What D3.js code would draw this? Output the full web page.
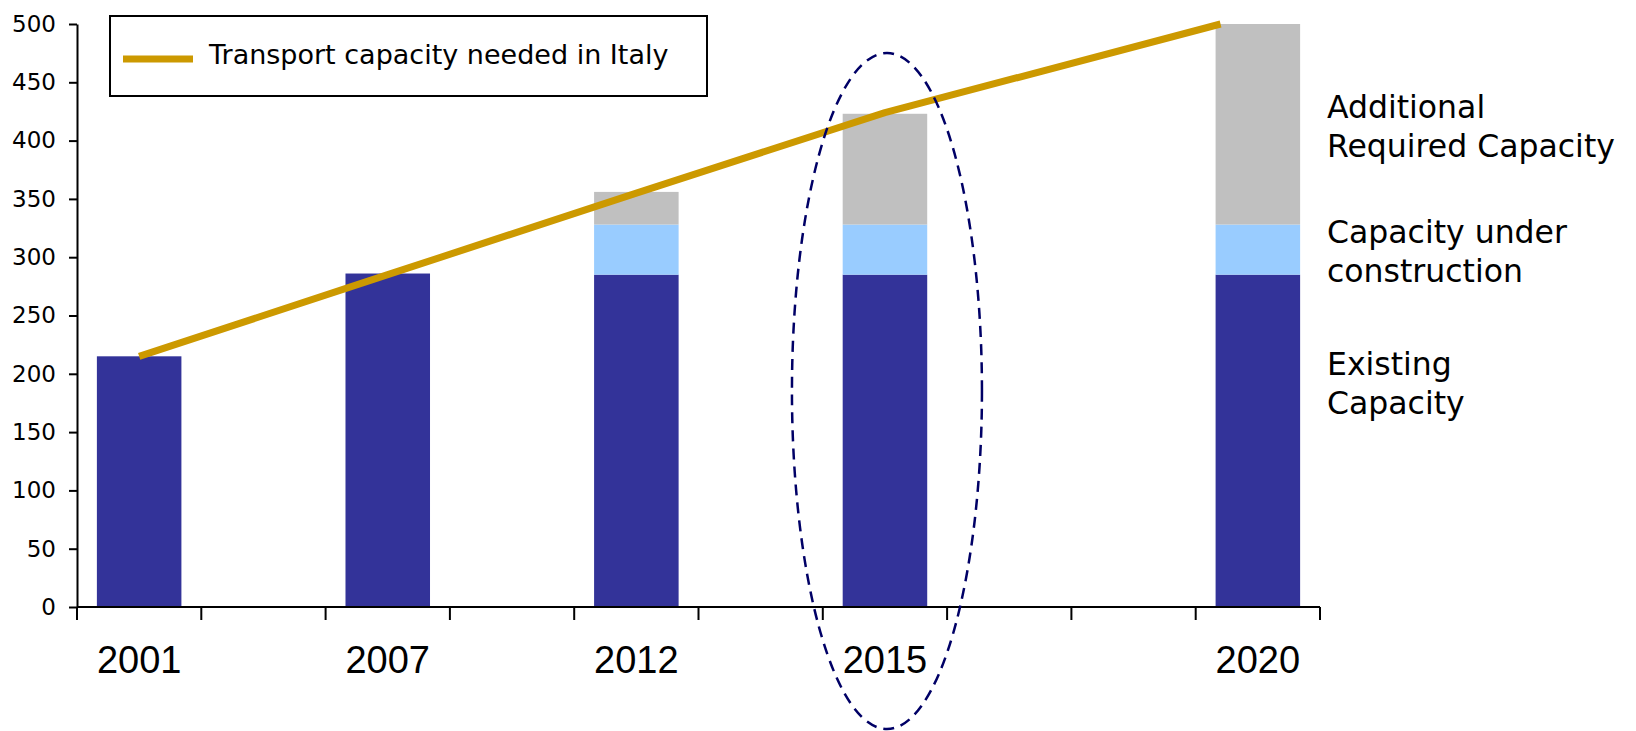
<!DOCTYPE html>
<html>
<head>
<meta charset="utf-8">
<script src="https://cdn.jsdelivr.net/npm/d3@7"></script>
<style>
  body { margin: 0; background: #fff; }
  svg { display: block; }
</style>
</head>
<body>
<svg id="chart"></svg>
<script>

// category slots on the x axis (blank slots have no bar)
const categories = ["2001", "", "2007", "", "2012", "", "2015", "", "", "2020"];
const barYears = ["2001", "2007", "2012", "2015", "2020"];
const existing = [215, 286, 285, 285, 285];
const underConstruction = [0, 0, 43, 43, 43];
const additional = [0, 0, 28, 95, 172];

// needed transport capacity, one point per bar year
const lineYears = ["2001", "2007", "2012", "2015", "2020"];
const lineValues = [215, 285, 355, 424, 500];

const yTicks = [0, 50, 100, 150, 200, 250, 300, 350, 400, 450, 500];

const sideLabels = [
    {lines: ["Additional", "Required Capacity"], value: 419},
    {lines: ["Capacity under", "construction"], value: 312},
    {lines: ["Existing", "Capacity"], value: 199}
];

function drawChart(){

    const width = 1636, height = 731;
    const margin = {top: 24, left: 77, right: 316, bottom: 124};

    const svg = d3.select("#chart")
                  .attr("width", width)
                  .attr("height", height);

    svg.selectAll("*").remove();

    const x = d3.scaleBand()
                .domain(d3.range(categories.length))
                .range([margin.left, width - margin.right])
                .padding(0);

    const y = d3.scaleLinear()
                .domain([0, 500])
                .range([height - margin.bottom, margin.top]);

    const slotCenter = s => x(s) + x.bandwidth() / 2;

    // line points sit on the bar centres, except the last which stops at the bar's left side
    const lineX = lineYears.map((yr, i) => {
        const s = categories.indexOf(yr);
        return i === lineYears.length - 1 ? x(s) + x.bandwidth() * 0.2 : slotCenter(s);
    });

    const colors = {existing: "#333399", construction: "#99ccff", additional: "#c0c0c0"};

    const rows = barYears.map((yr, i) => ({
        slot: categories.indexOf(yr),
        existing: existing[i],
        construction: underConstruction[i],
        additional: additional[i]
    }));

    const stack = d3.stack().keys(["existing", "construction", "additional"]);
    const series = stack(rows);

    const barW = x.bandwidth() * 0.68;

    svg.append("g")
       .selectAll("g")
       .data(series)
       .join("g")
       .attr("fill", d => colors[d.key])
       .selectAll("rect")
       .data(d => d)
       .join("rect")
       .attr("x", d => x(d.data.slot) + (x.bandwidth() - barW) / 2)
       .attr("width", barW)
       .attr("y", d => y(d[1]))
       .attr("height", d => y(d[0]) - y(d[1]));

    // y axis
    const yAxis = svg.append("g")
       .attr("transform", `translate(${margin.left},0)`)
       .call(d3.axisLeft(y).tickValues(yTicks).tickSize(8).tickPadding(13).tickSizeOuter(0));
    yAxis.select(".domain").attr("stroke", "#000").attr("stroke-width", 2);
    yAxis.selectAll(".tick line").attr("stroke", "#000").attr("stroke-width", 2);
    yAxis.selectAll("text")
         .style("font-family", "'DejaVu Sans', Verdana, sans-serif")
         .style("font-size", "23px")
         .attr("fill", "#000");

    // x axis: line plus ticks at slot boundaries
    const gx = svg.append("g");
    gx.append("line")
      .attr("x1", x.range()[0]).attr("x2", x.range()[1])
      .attr("y1", y(0)).attr("y2", y(0))
      .attr("stroke", "#000").attr("stroke-width", 2);
    gx.selectAll(".xt")
      .data(d3.range(categories.length + 1))
      .join("line")
      .attr("x1", d => margin.left + d * x.bandwidth())
      .attr("x2", d => margin.left + d * x.bandwidth())
      .attr("y1", y(0)).attr("y2", y(0) + 13)
      .attr("stroke", "#000").attr("stroke-width", 2);
    gx.selectAll(".xl")
      .data(categories.map((c, i) => ({c, i})).filter(d => d.c !== ""))
      .join("text")
      .attr("x", d => slotCenter(d.i))
      .attr("y", y(0) + 66)
      .attr("text-anchor", "middle")
      .style("font-family", "'Liberation Sans', Arial, sans-serif")
      .style("font-size", "38px")
      .text(d => d.c);

    // demand line
    const line = d3.line()
                   .x((d, i) => lineX[i])
                   .y(d => y(d));
    svg.append("path")
       .datum(lineValues)
       .attr("d", line)
       .attr("fill", "none")
       .attr("stroke", "#cc9900")
       .attr("stroke-width", 7)
       .attr("stroke-linejoin", "round");

    // dashed ellipse around 2015
    svg.append("ellipse")
       .attr("cx", slotCenter(6) + 2)
       .attr("cy", 391)
       .attr("rx", 95)
       .attr("ry", 338)
       .attr("fill", "none")
       .attr("stroke", "#000066")
       .attr("stroke-width", 2.5)
       .attr("stroke-dasharray", "11,7");

    // legend
    const lg = svg.append("g");
    lg.append("rect")
      .attr("x", 110).attr("y", 16)
      .attr("width", 597).attr("height", 80)
      .attr("fill", "#fff").attr("stroke", "#000").attr("stroke-width", 2);
    lg.append("line")
      .attr("x1", 123).attr("x2", 193)
      .attr("y1", 59).attr("y2", 59)
      .attr("stroke", "#cc9900").attr("stroke-width", 7);
    lg.append("text")
      .attr("x", 209).attr("y", 64)
      .style("font-family", "'DejaVu Sans', Verdana, sans-serif")
      .style("font-size", "27px")
      .text("Transport capacity needed in Italy");

    // side labels
    const sl = svg.append("g")
       .selectAll("text")
       .data(sideLabels)
       .join("text")
       .attr("x", 1327)
       .attr("y", d => y(d.value))
       .style("font-family", "'DejaVu Sans', Verdana, sans-serif")
       .style("font-size", "31.5px");
    sl.selectAll("tspan")
      .data(d => d.lines)
      .join("tspan")
      .attr("x", 1327)
      .attr("dy", (d, i) => i === 0 ? 0 : 39)
      .text(d => d);
}

drawChart();
</script>
</body>
</html>
